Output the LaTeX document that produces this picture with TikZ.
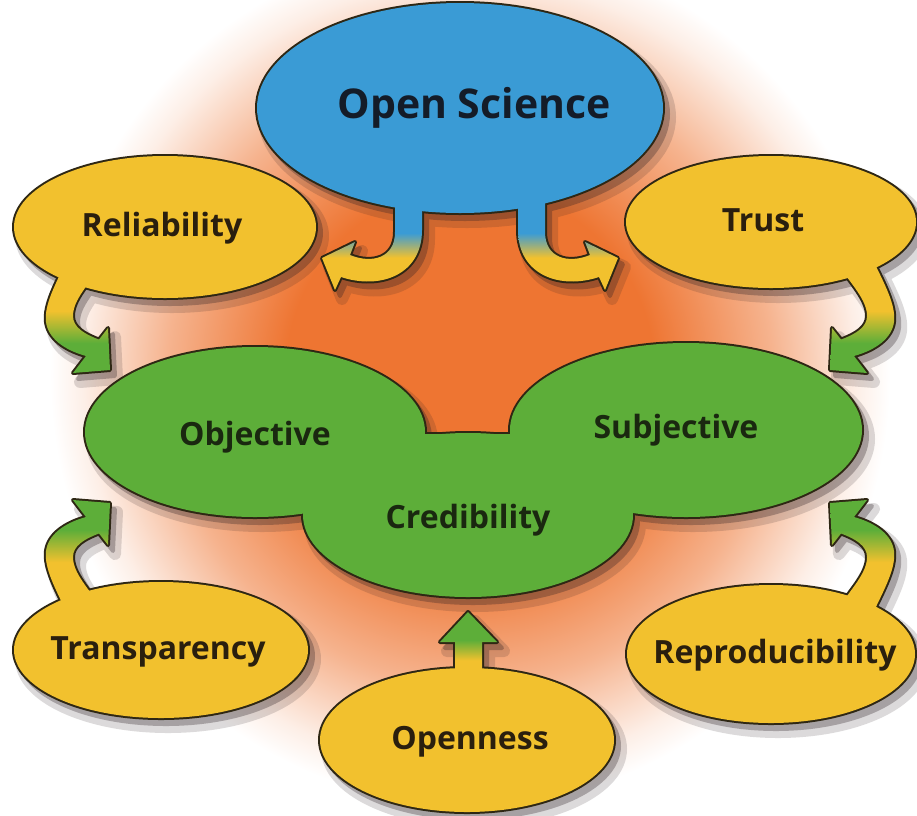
\documentclass[tikz,border=0pt]{standalone}
\usepackage{fontspec}
\setmainfont{Open Sans}
\definecolor{yel}{HTML}{F2C12E}
\definecolor{grn}{HTML}{5DAE39}
\definecolor{blu}{HTML}{3A9BD5}
\definecolor{orng}{HTML}{EE7532}
\definecolor{edge}{HTML}{2E2714}
\definecolor{shad}{HTML}{2A1E22}
\definecolor{ytext}{HTML}{2A1F0E}
\definecolor{gtext}{HTML}{1A2810}
\definecolor{btext}{HTML}{141C28}
\pgfdeclareverticalshading{yg}{100bp}{color(0bp)=(grn); color(38bp)=(grn); color(52bp)=(yel); color(100bp)=(yel)}
\pgfdeclareverticalshading{gy}{100bp}{color(0bp)=(yel); color(48bp)=(yel); color(62bp)=(grn); color(100bp)=(grn)}
\pgfdeclareverticalshading{gyo}{100bp}{color(0bp)=(yel); color(44bp)=(yel); color(57bp)=(grn); color(100bp)=(grn)}
\pgfdeclareverticalshading{by}{100bp}{color(0bp)=(yel); color(42bp)=(yel); color(55bp)=(blu); color(100bp)=(blu)}
\pgfdeclareradialshading{glow}{\pgfpoint{0bp}{0bp}}{color(0bp)=(orng); color(11bp)=(orng); color(18bp)=(orng!55!white); color(23bp)=(orng!12!white); color(25bp)=(white); color(50bp)=(white)}
\newcommand\Ell[4]{\path[#1] (#2) ellipse [x radius=#3, y radius=#4];}
\newcommand\LegL[1]{\path[#1] (395,195) -- (395,232) .. controls (395,258) and (372,264) .. (350,255) -- (355,242) -- (322,258) -- (335,290) -- (341,277) .. controls (380,290) and (422,275) .. (422,230) -- (422,195) -- cycle;}
\newcommand\LegR[1]{\begin{scope}[shift={(940,0)},xscale=-1]\LegL{#1}\end{scope}}
\newcommand\CornerArrow[1]{\path[#1] (68,258) .. controls (55,285) and (44,305) .. (46,322) .. controls (48,338) and (64,350) .. (86,356) -- (73,373) -- (110,370) -- (108,328) -- (99,339.5) .. controls (84,334) and (73,327) .. (73,316) .. controls (73,300) and (88,285) .. (104,262) -- cycle;}
\newcommand\CornerArrows[2]{%
  \CornerArrow{#1}%
  \begin{scope}[shift={(940,0)},xscale=-1]\CornerArrow{#1}\end{scope}%
  \begin{scope}[shift={(0,873)},yscale=-1]\CornerArrow{#2}\end{scope}%
  \begin{scope}[shift={(940,873)},xscale=-1,yscale=-1]\CornerArrow{#2}\end{scope}}
\newcommand\OpArrow[1]{\path[#1] (455,690) -- (455,642) -- (440,642) -- (468,612) -- (497,642) -- (482,642) -- (482,690) -- cycle;}
\newcommand\YellowEllipses[1]{%
  \Ell{#1}{165,227}{151}{71}%
  \Ell{#1}{771,222}{145}{66}%
  \Ell{#1}{161,650}{147}{68}%
  \Ell{#1}{771,654}{144}{69}%
  \Ell{#1}{467,740}{147}{72}}
\newcommand\GreenShape[1]{%
  \Ell{#1}{255,432}{170}{85}%
  \Ell{#1}{686,430}{176}{87}%
  \Ell{#1}{468,515}{165}{82}%
  \path[#1] (425,434) rectangle (512,520);}
\newcommand\AllShapes[1]{%
  \Ell{#1}{460,108}{203}{105}%
  \LegL{#1}\LegR{#1}%
  \YellowEllipses{#1}%
  \CornerArrows{#1}{#1}%
  \OpArrow{#1}%
  \GreenShape{#1}}
\begin{document}
\begin{tikzpicture}[x=1pt,y=-1pt,
  lbl/.style={font=\fontsize{32}{32}\selectfont\bfseries, inner sep=0pt},
  ylbl/.style={lbl, text=ytext},
  glbl/.style={lbl, text=gtext},
  blbl/.style={font=\fontsize{41}{41}\selectfont\bfseries, inner sep=0pt, text=btext}]
\useasboundingbox (0,0) rectangle (917,815);
\fill[white] (0,0) rectangle (917,815);
\begin{scope}
\clip (0,0) rectangle (917,815);
\shade[shading=glow] (470,375) ellipse [x radius=420, y radius=430];
% soft shadows
\begin{scope}[shift={(7,9)}, transparency group, opacity=0.16]
  \AllShapes{fill=shad, draw=shad, line width=12, line join=round}
\end{scope}
\begin{scope}[shift={(5,6)}, transparency group, opacity=0.3]
  \AllShapes{fill=shad, draw=shad, line width=4, line join=round}
\end{scope}
% outlines
\AllShapes{draw=edge, line width=4, line join=round}
% fills
\Ell{fill=blu}{460,108}{203}{105}
\YellowEllipses{fill=yel}
\GreenShape{fill=grn}
\LegL{shade, shading=by}
\LegR{shade, shading=by}
\CornerArrows{shade, shading=yg}{shade, shading=gy}
\OpArrow{shade, shading=gyo}
\end{scope}
% labels
\node[blbl] (os) at (474,108) {Open Science};
\node[ylbl] (rel) at (162,228) {Reliability};
\node[ylbl] (tru) at (763,220) {Trust};
\node[ylbl] (tra) at (158,652) {Transparency};
\node[ylbl] (rep) at (775,655) {Reproducibility};
\node[ylbl] (ope) at (470,742) {Openness};
\node[glbl] (obj) at (255,437) {Objective};
\node[glbl] (sub) at (676,430) {Subjective};
\node[glbl] (cre) at (468,520) {Credibility};
\end{tikzpicture}
\end{document}
